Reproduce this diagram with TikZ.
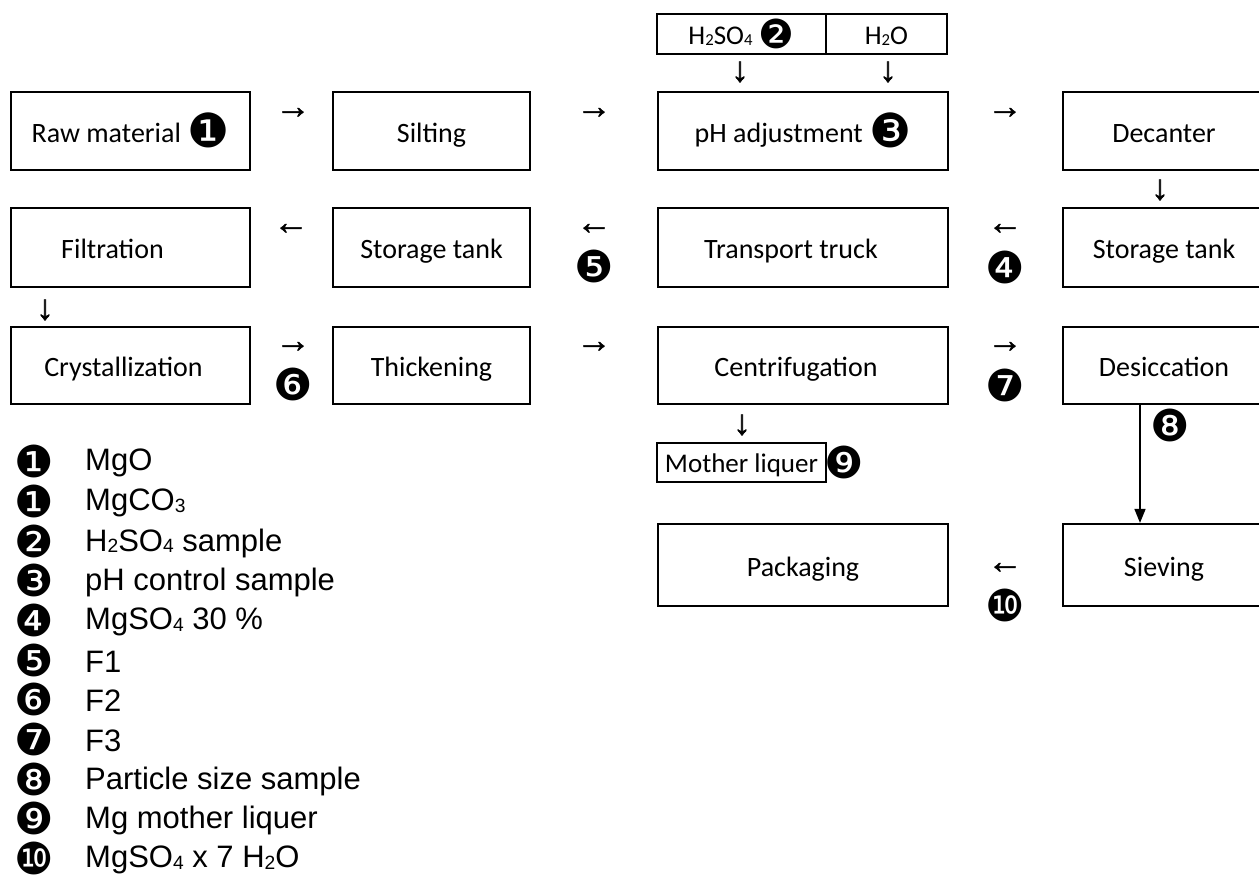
\documentclass[tikz,border=0pt]{standalone}
\usepackage{fontspec}
\setmainfont{Carlito}
\newfontfamily\arialf{Liberation Sans}
\newfontfamily\arrf[FakeBold=1.6]{Liberation Sans}
\newfontfamily\dvf{DejaVu Sans}
\usetikzlibrary{arrows.meta}
\newcommand\sbs[1]{\raisebox{-0.12ex}{\scalebox{0.62}{#1}}}
\newcommand\cn[1]{\raisebox{-5pt}{\dvf\fontsize{47}{47}\selectfont #1}}
\newcommand\cns[1]{\raisebox{-4pt}{\dvf\fontsize{40}{40}\selectfont #1}}
\tikzset{
  box/.style={draw,line width=2.2pt,inner sep=0pt,text height=26pt,text depth=4pt,font=\fontsize{28}{30}\selectfont},
  smallbox/.style={draw,line width=1.6pt,inner sep=0pt,text height=24pt,text depth=4pt,font=\fontsize{27}{29}\selectfont},
  glyph/.style={inner sep=0pt,font=\arrf\fontsize{35}{35}\selectfont},
  badge/.style={inner sep=0pt,font=\dvf\fontsize{44}{44}\selectfont},
  legnum/.style={inner sep=0pt,font=\dvf\fontsize{44}{44}\selectfont},
  legtext/.style={inner sep=0pt,anchor=west,font=\arialf\fontsize{31}{31}\selectfont},
  conn/.style={line width=1.6pt,-{Triangle[width=11pt,length=14pt]}}
}
\begin{document}
\begin{tikzpicture}[x=1pt,y=-1pt]
\useasboundingbox (0,0) rectangle (1259,881);
% row 1
\node[box,minimum width=239pt,minimum height=78pt] (raw) at (130.5,131) {Raw material \cn{❶}};
\node[box,minimum width=197pt,minimum height=78pt] (silt) at (431.5,131) {Silting};
\node[box,minimum width=290pt,minimum height=78pt] (ph) at (803,131) {pH adjustment \cn{❸}};
\node[box,minimum width=202pt,minimum height=78pt] (dec) at (1164,131) {Decanter};
% top inputs
\node[smallbox,minimum width=169pt,minimum height=40pt] (acid) at (741.5,34) {H\sbs{2}SO\sbs{4} \cns{❷}};
\node[smallbox,minimum width=121pt,minimum height=40pt] (water) at (886.5,34) {H\sbs{2}O};
% row 2
\node[box,minimum width=239pt,minimum height=79pt] (filt) at (130.5,247.5) {Filtration\hspace*{36pt}};
\node[box,minimum width=197pt,minimum height=79pt] (st1) at (431.5,247.5) {Storage tank};
\node[box,minimum width=290pt,minimum height=79pt] (truck) at (803,247.5) {Transport truck\hspace*{24pt}};
\node[box,minimum width=202pt,minimum height=79pt] (st2) at (1164,247.5) {Storage tank};
% row 3
\node[box,minimum width=239pt,minimum height=77pt] (cry) at (130.5,365.5) {Crystallization\hspace*{14pt}};
\node[box,minimum width=197pt,minimum height=77pt] (thick) at (431.5,365.5) {Thickening};
\node[box,minimum width=290pt,minimum height=77pt] (cent) at (803,365.5) {Centrifugation\hspace*{14pt}};
\node[box,minimum width=202pt,minimum height=77pt] (desic) at (1164,365.5) {Desiccation};
% row 4
\node[box,minimum width=290pt,minimum height=82pt] (pack) at (803,565) {Packaging};
\node[box,minimum width=202pt,minimum height=82pt] (sieve) at (1164,565) {Sieving};
% mother liquer
\node[smallbox,minimum width=169pt,minimum height=39pt] (mother) at (741.5,462.5) {Mother liquer};
\node[badge] (b9) at (844,462) {❾};
% glyph arrows
\node[glyph] (a1) at (293,113) {→};
\node[glyph] (a2) at (594,113) {→};
\node[glyph] (a3) at (1005,113) {→};
\node[glyph] (a4) at (740,72) {↓};
\node[glyph] (a5) at (888,72) {↓};
\node[glyph] (a6) at (1160,190) {↓};
\node[glyph] (a7) at (1005,229) {←};
\node[badge] (b4) at (1005,267) {❹};
\node[glyph] (a8) at (594,229) {←};
\node[badge] (b5) at (594,266) {❺};
\node[glyph] (a9) at (291,229) {←};
\node[glyph] (a10) at (45,310) {↓};
\node[glyph] (a11) at (293,347) {→};
\node[badge] (b6) at (293,384) {❻};
\node[glyph] (a12) at (594,347) {→};
\node[glyph] (a13) at (1005,347) {→};
\node[badge] (b7) at (1005,385) {❼};
\node[glyph] (a14) at (742,425) {↓};
\node[glyph] (a15) at (1005,568) {←};
\node[badge] (b10) at (1005,605) {❿};
% connector 8
\coordinate (c8) at (1140,0);
\draw[conn] (desic.south -| c8) -- (sieve.north -| c8);
\node[badge] (b8) at (1170,425) {❽};
% legend
\node[legnum] (l1n) at (34,461) {❶};   \node[legtext] (l1t) at (85,463) {MgO};
\node[legnum] (l2n) at (34,501) {❶};   \node[legtext] (l2t) at (85,503) {MgCO\sbs{3}};
\node[legnum] (l3n) at (34,541) {❷};   \node[legtext] (l3t) at (85,543) {H\sbs{2}SO\sbs{4} sample};
\node[legnum] (l4n) at (34,580) {❸};   \node[legtext] (l4t) at (85,582) {pH control sample};
\node[legnum] (l5n) at (34,620) {❹};   \node[legtext] (l5t) at (85,622) {MgSO\sbs{4} 30 \%};
\node[legnum] (l6n) at (34,660) {❺};   \node[legtext] (l6t) at (85,662) {F1};
\node[legnum] (l7n) at (34,699) {❻};   \node[legtext] (l7t) at (85,701) {F2};
\node[legnum] (l8n) at (34,739) {❼};   \node[legtext] (l8t) at (85,741) {F3};
\node[legnum] (l9n) at (34,779) {❽};   \node[legtext] (l9t) at (85,781) {Particle size sample};
\node[legnum] (l10n) at (34,818) {❾};  \node[legtext] (l10t) at (85,820) {Mg mother liquer};
\node[legnum] (l11n) at (34,858) {❿};  \node[legtext] (l11t) at (85,860) {MgSO\sbs{4} x 7 H\sbs{2}O};
\end{tikzpicture}
\end{document}
